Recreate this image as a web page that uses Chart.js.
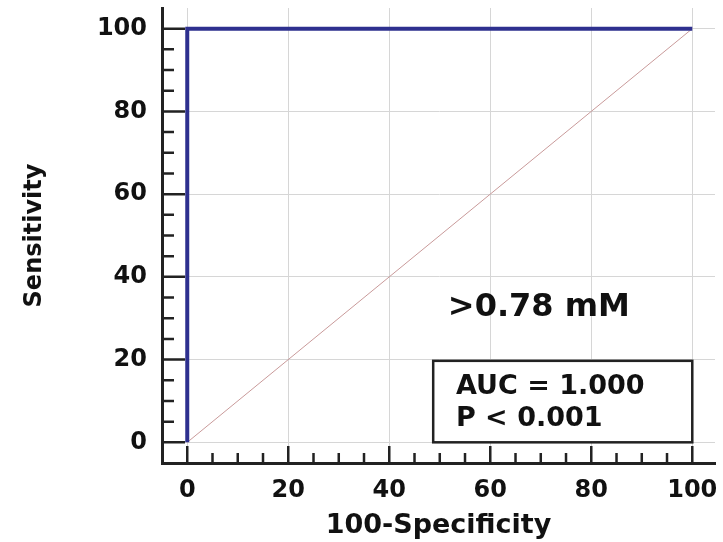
<!DOCTYPE html>
<html>
<head>
<meta charset="utf-8">
<script src="https://cdn.jsdelivr.net/npm/chart.js@4.4.0/dist/chart.umd.min.js"></script>
<style>
  html, body { margin: 0; padding: 0; background: #fff; }
  #wrap { width: 723px; height: 542px; }
</style>
</head>
<body>
<div id="wrap"><canvas id="roc" width="723" height="542"></canvas></div>
<script>
// ROC curve (100-Specificity, Sensitivity)
const rocX = [0, 0, 100];
const rocY = [0, 100, 100];

// chance diagonal
const diagX = [0, 100];
const diagY = [0, 100];

// axis ticks
const majorTicks = [0, 20, 40, 60, 80, 100];
const minorTicks = [5, 10, 15, 25, 30, 35, 45, 50, 55, 65, 70, 75, 85, 90, 95];

// annotation text
const cutoffLabel = '>0.78 mM';
const statLines = ['AUC = 1.000', 'P < 0.001'];

Chart.defaults.font.family = "'DejaVu Sans', sans-serif";

// ticks pointing into the plot, like the original
const innerTicks = {
    id: 'innerTicks',
    afterDraw(chart) {
        const { ctx, chartArea: a, scales: { x, y } } = chart;
        ctx.save();
        ctx.strokeStyle = '#222';
        ctx.lineWidth = 2.5;
        ctx.beginPath();
        majorTicks.forEach(v => {
            const px = x.getPixelForValue(v);
            ctx.moveTo(px, a.bottom);
            ctx.lineTo(px, a.bottom - 17);
            const py = y.getPixelForValue(v);
            ctx.moveTo(a.left, py);
            ctx.lineTo(a.left + 23, py);
        });
        minorTicks.forEach(v => {
            const px = x.getPixelForValue(v);
            ctx.moveTo(px, a.bottom);
            ctx.lineTo(px, a.bottom - 10);
            const py = y.getPixelForValue(v);
            ctx.moveTo(a.left, py);
            ctx.lineTo(a.left + 12, py);
        });
        ctx.stroke();
        ctx.restore();
    }
};

// cutoff label and the AUC box
const notes = {
    id: 'notes',
    afterDatasetsDraw(chart) {
        const { ctx, scales: { x, y } } = chart;
        ctx.save();
        ctx.fillStyle = '#111';
        ctx.textAlign = 'left';
        ctx.textBaseline = 'alphabetic';
        ctx.font = "bold 32px 'DejaVu Sans'";
        ctx.fillText(cutoffLabel, x.getPixelForValue(51.6), y.getPixelForValue(30.5));

        const bx0 = x.getPixelForValue(48.7), bx1 = x.getPixelForValue(100);
        const by0 = y.getPixelForValue(19.7), by1 = y.getPixelForValue(0);
        ctx.fillStyle = '#fff';
        ctx.fillRect(bx0, by0, bx1 - bx0, by1 - by0);
        ctx.strokeStyle = '#222';
        ctx.lineWidth = 2.5;
        ctx.strokeRect(bx0, by0, bx1 - bx0, by1 - by0);

        ctx.fillStyle = '#111';
        ctx.font = "bold 27px 'DejaVu Sans'";
        ctx.fillText(statLines[0], x.getPixelForValue(53.2), y.getPixelForValue(11.8));
        ctx.fillText(statLines[1], x.getPixelForValue(53.2), y.getPixelForValue(4.0));
        ctx.restore();
    }
};

const tickFont = { size: 24, weight: 'bold' };
const titleFont = { size: 27, weight: 'bold' };

new Chart(document.getElementById('roc'), {
    type: 'scatter',
    data: {
        datasets: [
            {
                data: rocX.map((v, i) => ({ x: v, y: rocY[i] })),
                showLine: true,
                borderColor: '#2e308f',
                borderWidth: 4,
                pointRadius: 0,
                order: 0
            },
            {
                data: diagX.map((v, i) => ({ x: v, y: diagY[i] })),
                showLine: true,
                borderColor: '#c99a9a',
                borderWidth: 1,
                pointRadius: 0,
                order: 1
            }
        ]
    },
    options: {
        responsive: false,
        animation: false,
        layout: { padding: { left: 0, top: 8, right: 8, bottom: 0 } },
        plugins: { legend: { display: false }, tooltip: { enabled: false } },
        scales: {
            x: {
                type: 'linear',
                min: -5,
                max: 104.5,
                afterBuildTicks: s => { s.ticks = majorTicks.map(v => ({ value: v })); },
                afterFit: s => { s.height = 79; s.paddingLeft = 0; s.paddingRight = 0; },
                grid: { color: '#d6d6d6', lineWidth: 1, drawTicks: false },
                border: { display: true, color: '#222', width: 3 },
                ticks: { font: tickFont, color: '#111', padding: 13, maxRotation: 0 },
                title: { display: true, text: '100-Specificity', font: titleFont, color: '#111', padding: { top: 0, bottom: 0 } }
            },
            y: {
                type: 'linear',
                min: -5,
                max: 105,
                afterBuildTicks: s => { s.ticks = majorTicks.map(v => ({ value: v })); },
                afterFit: s => { s.width = 162; s.paddingTop = 0; s.paddingBottom = 0; },
                grid: { color: '#d6d6d6', lineWidth: 1, drawTicks: false },
                border: { display: true, color: '#222', width: 3 },
                ticks: { font: tickFont, color: '#111', padding: 15 },
                title: { display: true, text: 'Sensitivity', font: { size: 24, weight: 'bold' }, color: '#111', padding: { top: 20, bottom: 0 } }
            }
        }
    },
    plugins: [innerTicks, notes]
});
</script>
</body>
</html>
